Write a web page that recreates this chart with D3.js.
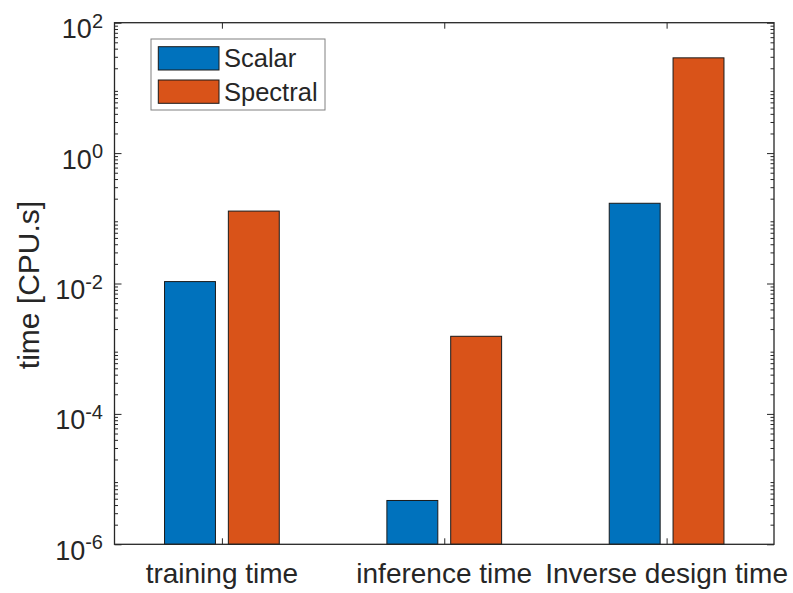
<!DOCTYPE html>
<html>
<head>
<meta charset="utf-8">
<script src="https://cdn.jsdelivr.net/npm/d3@7"></script>
<style>
  html, body { margin: 0; padding: 0; background: #fff; }
  svg text { font-family: "Liberation Sans", Arial, Helvetica, sans-serif; fill: #262626; }
</style>
</head>
<body>
<svg id="chart" width="793" height="593"></svg>
<script>
// Computation time per task, in CPU seconds (log scale)
const categories = ["training time", "inference time", "Inverse design time"];
const seriesNames = ["Scalar", "Spectral"];
const scalarTimes = [0.0107, 4.7e-6, 0.17];
const spectralTimes = [0.129, 0.00155, 28.9];
const yTickExponents = [-6, -4, -2, 0, 2];
const seriesColors = ["#0072BD", "#D95319"];

const svg = d3.select("#chart");
const W = 793, H = 593;
const x0 = 114.5, x1 = 774, y0 = 22.7, y1 = 544.3;

// Category positions 1..3 on a linear axis, bars offset within each group
const x = d3.scaleLinear().domain([0.517, 3.483]).range([x0, x1]);
const y = d3.scaleLog().domain([1e-6, 1e2]).range([y1, y0]);
const groupOffsets = [-0.1435, 0.1435];
const barWidth = 0.229;

const series = [scalarTimes, spectralTimes];
const bars = [];
series.forEach((vals, si) => {
  vals.forEach((v, ci) => bars.push({ si, ci, v }));
});

svg.append("g").selectAll("rect").data(bars).join("rect")
  .attr("x", d => x(d.ci + 1 + groupOffsets[d.si] - barWidth / 2))
  .attr("width", d => x(barWidth) - x(0))
  .attr("y", d => y(d.v))
  .attr("height", d => y(1e-6) - y(d.v))
  .attr("fill", d => seriesColors[d.si])
  .attr("stroke", "#1a1a1a")
  .attr("stroke-width", 1);

// Axes: box with inward ticks on all sides
const axisColor = "#262626";
const minorVals = [];
for (let e = -6; e < 2; e++) for (let m = 2; m <= 9; m++) minorVals.push(m * Math.pow(10, e));
const majorVals = yTickExponents.map(e => Math.pow(10, e));

function styleAxis(g) {
  g.select(".domain").remove();
  g.selectAll(".tick line").attr("stroke", axisColor).attr("stroke-width", 1);
  g.selectAll(".tick text").remove();
}

// left / right major & minor ticks
svg.append("g").attr("transform", `translate(${x0},0)`)
  .call(d3.axisRight(y).tickValues(majorVals).tickSize(7)).call(styleAxis);
svg.append("g").attr("transform", `translate(${x0},0)`)
  .call(d3.axisRight(y).tickValues(minorVals).tickSize(3.5)).call(styleAxis);
svg.append("g").attr("transform", `translate(${x1},0)`)
  .call(d3.axisLeft(y).tickValues(majorVals).tickSize(7)).call(styleAxis);
svg.append("g").attr("transform", `translate(${x1},0)`)
  .call(d3.axisLeft(y).tickValues(minorVals).tickSize(3.5)).call(styleAxis);

// bottom / top category ticks
svg.append("g").attr("transform", `translate(0,${y1})`)
  .call(d3.axisTop(x).tickValues([1, 2, 3]).tickSize(6)).call(styleAxis);
svg.append("g").attr("transform", `translate(0,${y0})`)
  .call(d3.axisBottom(x).tickValues([1, 2, 3]).tickSize(6)).call(styleAxis);

svg.append("rect")
  .attr("x", x0).attr("y", y0).attr("width", x1 - x0).attr("height", y1 - y0)
  .attr("fill", "none").attr("stroke", axisColor).attr("stroke-width", 1.3);

// Y tick labels as 10^n
const yLabels = svg.append("g");
yTickExponents.forEach(e => {
  const t = yLabels.append("text")
    .attr("x", 103).attr("y", y(Math.pow(10, e)) + 15.5)
    .attr("text-anchor", "end")
    .style("font-size", "27px");
  t.append("tspan").text("10");
  t.append("tspan").text(String(e))
    .attr("dy", -10.5).style("font-size", "20px");
});

// X category labels
svg.append("g").selectAll("text").data(categories).join("text")
  .attr("x", (d, i) => x(i + 1))
  .attr("y", 583)
  .attr("text-anchor", "middle")
  .style("font-size", "28px")
  .text(d => d);

// Y axis title
svg.append("text")
  .attr("transform", `translate(39,285) rotate(-90)`)
  .attr("text-anchor", "middle")
  .style("font-size", "30px")
  .text("time [CPU.s]");

// Legend
const lg = svg.append("g");
lg.append("rect").attr("x", 151).attr("y", 39).attr("width", 174).attr("height", 71)
  .attr("fill", "#fff").attr("stroke", "#808080").attr("stroke-width", 1);
seriesNames.forEach((name, i) => {
  const cy = 58.3 + i * 33.3;
  lg.append("rect").attr("x", 158.3).attr("y", cy - 11.6).attr("width", 60.7).attr("height", 23.3)
    .attr("fill", seriesColors[i]).attr("stroke", "#1a1a1a").attr("stroke-width", 1);
  lg.append("text").attr("x", 224).attr("y", cy + 9)
    .style("font-size", "25.5px").text(name);
});
</script>
</body>
</html>
